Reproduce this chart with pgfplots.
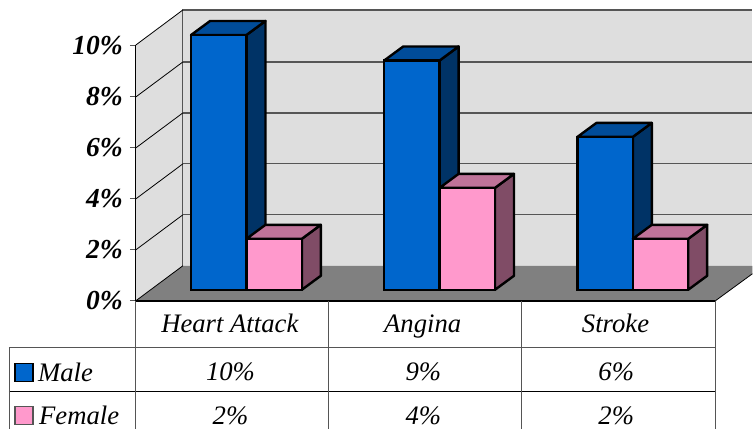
\documentclass[border=0pt]{standalone}
\usepackage{pgfplots}
\usepackage{fontspec}
\setmainfont{Liberation Serif}
\pgfplotsset{compat=1.18}
\definecolor{mfront}{HTML}{0066CC}
\definecolor{mside}{HTML}{003366}
\definecolor{mtop}{HTML}{004C99}
\definecolor{ffront}{HTML}{FF99CC}
\definecolor{fside}{HTML}{804C66}
\definecolor{ftop}{HTML}{BF7399}
\definecolor{wall}{HTML}{DEDEDE}
\definecolor{floorc}{HTML}{808080}
\definecolor{gridc}{HTML}{555555}
\def\P#1#2{(axis cs:{(#1-136)/193.33},{(301-#2)/25.5})}
\def\dxx{0.0983}
\def\dyy{0.549}
% x0 x1 value sidecolour topcolour
\newcommand\faces[5]{%
  \pgfmathsetmacro\xa{#1+\dxx}%
  \pgfmathsetmacro\xb{#2+\dxx}%
  \pgfmathsetmacro\ya{#3+\dyy}%
  \edef\temp{\noexpand\addplot[fill=#4,draw=black,line width=2.4pt,line join=round,xshift=14pt,yshift=11pt,forget plot]
    coordinates {(#2,0) (\xb,\dyy) (\xb,\ya) (#2,#3)} --cycle;%
    \noexpand\addplot[fill=#5,draw=black,line width=2.4pt,line join=round,xshift=14pt,yshift=11pt,forget plot]
    coordinates {(#1,#3) (#2,#3) (\xb,\ya) (\xa,\ya)} --cycle;}%
  \temp}
\newcommand\gridrow[2]{% left wall y, back wall y
  \draw[gridc,line width=1.2pt] \P{183}{#2} -- \P{753}{#2};
  \draw[black,line width=0.8pt] \P{136}{#1} -- \P{183}{#2};}
\newcommand\tcol[4]{%
  \node[anchor=base,inner sep=0pt,font=\fontsize{26.7}{26.7}\selectfont\itshape] at \P{#1}{333} {#2};
  \node[anchor=base,inner sep=0pt,font=\fontsize{26.7}{26.7}\selectfont\itshape] at \P{#1+0.7}{381} {#3\%};
  \node[anchor=base,inner sep=0pt,font=\fontsize{26.7}{26.7}\selectfont\itshape] at \P{#1+0.7}{425} {#4\%};}
\newcommand\tabv[1]{\draw[gridc,line width=0.8pt] \P{#1}{301} -- \P{#1}{429};}
\begin{document}
\begin{tikzpicture}
\begin{axis}[
  x=193.33pt, y=25.5pt, xmin=0, xmax=3, ymin=0, ymax=10,
  clip=false,
  axis x line=none,
  axis y line=left,
  axis line style={-,black,line width=0.8pt},
  ytick={0,2,4,6,8,10},
  tick align=outside,
  major tick length=6pt,
  tick style={gridc,line width=1pt},
  /pgf/number format/assume math mode=true,
  yticklabel={\pgfmathprintnumber{\tick}\%},
  yticklabel style={font=\fontsize{27.5}{27.5}\selectfont\bfseries\itshape,inner sep=0pt,xshift=-7pt},
]
% bounding box
\path \P{0}{0} rectangle \P{753}{429};
% walls and floor
\fill[wall] \P{136}{301} -- \P{183}{266} -- \P{183}{10} -- \P{136}{45} -- cycle;
\fill[wall] \P{183}{266} rectangle \P{753}{10};
\fill[floorc] \P{136}{301} -- \P{183}{266} -- \P{753}{266} -- \P{753}{274} -- \P{716}{301} -- cycle;
\draw[gridc,line width=1.2pt] \P{183}{266} -- \P{183}{10} -- \P{753}{10};
\gridrow{250}{215}
\gridrow{199}{164}
\gridrow{148}{113}
\gridrow{97}{62}
\draw[black,line width=0.8pt] \P{136}{45} -- \P{183}{10};
\draw[black,line width=0.8pt] \P{136}{301} -- \P{183}{266};
\draw[black,line width=0.8pt] \P{136}{301} -- \P{136}{45};
\draw[black,line width=2pt] \P{136}{301} -- \P{716}{301};
\draw[black,line width=0.8pt] \P{716}{301} -- \P{753}{274};
% Male
\faces{0.2134}{0.5}{10}{mside}{mtop}
\faces{1.2134}{1.5}{9}{mside}{mtop}
\faces{2.2134}{2.5}{6}{mside}{mtop}
\addplot[ybar,bar width=55.4pt,bar shift=-27.7pt,fill=mfront,draw=black,line width=2.4pt,xshift=14pt,yshift=11pt,forget plot]
  coordinates {(0.5,10) (1.5,9) (2.5,6)};
% Female
\faces{0.5}{0.7866}{2}{fside}{ftop}
\faces{1.5}{1.7866}{4}{fside}{ftop}
\faces{2.5}{2.7866}{2}{fside}{ftop}
\addplot[ybar,bar width=55.4pt,bar shift=27.7pt,fill=ffront,draw=black,line width=2.4pt,xshift=14pt,yshift=11pt,forget plot]
  coordinates {(0.5,2) (1.5,4) (2.5,2)};
% data table
\draw[gridc,line width=0.8pt] \P{9}{348} -- \P{716}{348};
\draw[black,line width=0.8pt] \P{9}{392} -- \P{716}{392};
\draw[gridc,line width=0.8pt] \P{9}{348} -- \P{9}{429};
\tabv{136}\tabv{329}\tabv{522}\tabv{716}
\tcol{230}{Heart Attack}{10}{2}
\tcol{423}{Angina}{9}{4}
\tcol{616}{Stroke}{6}{2}
\filldraw[fill=mfront,draw=black,line width=1.5pt] \P{15}{364} rectangle \P{33}{382};
\filldraw[fill=ffront,draw=gridc,line width=1.5pt] \P{15}{407} rectangle \P{33}{425};
\node[anchor=base west,inner sep=0pt,font=\fontsize{26.7}{26.7}\selectfont\itshape] at \P{38}{382} {Male};
\node[anchor=base west,inner sep=0pt,font=\fontsize{26.7}{26.7}\selectfont\itshape] at \P{39}{424.5} {Female};
\end{axis}
\end{tikzpicture}
\end{document}
